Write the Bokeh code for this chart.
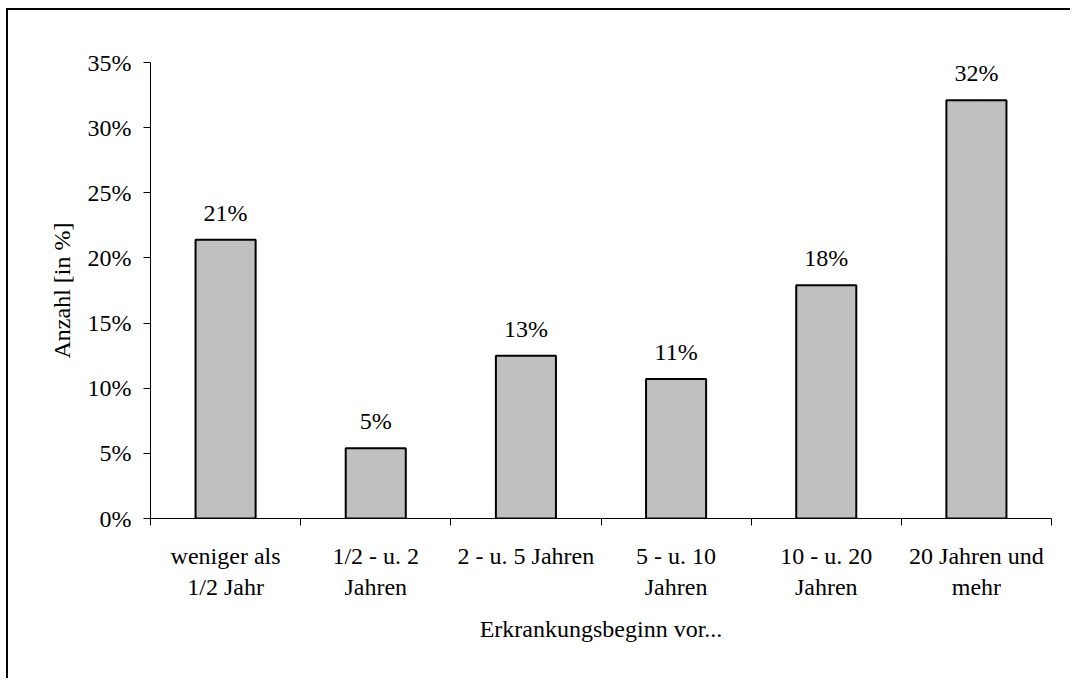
from bokeh.plotting import figure
from bokeh.models import (ColumnDataSource, Range1d, LinearAxis, FixedTicker,
                          PrintfTickFormatter, LabelSet)
from bokeh.embed import file_html
from bokeh.resources import INLINE

# ---- data ----
line1 = ["weniger als", "1/2 - u. 2", "2 - u. 5 Jahren", "5 - u. 10", "10 - u. 20", "20 Jahren und"]
line2 = ["1/2 Jahr", "Jahren", "", "Jahren", "Jahren", "mehr"]
values = [21.4, 5.4, 12.5, 10.7, 17.9, 32.1]
yticks = [0, 5, 10, 15, 20, 25, 30, 35]

FONT = "Liberation Serif"
FS = "24px"

n = len(values)
centers = [i + 0.5 for i in range(n)]
bounds = [float(i) for i in range(n + 1)]
lbl = [f"{int(v + 0.5)}%" for v in values]

src = ColumnDataSource(dict(x=centers, top=values, lbl=lbl))

p = figure(width=1064, height=670, output_backend="svg", toolbar_location=None,
           x_range=Range1d(0, n), y_range=Range1d(0, yticks[-1]),
           x_axis_location=None, y_axis_location="left",
           min_border_left=142, min_border_right=21, min_border_top=52,
           min_border_bottom=162)
p.styles = {"border-left": "2px solid #000", "border-top": "2px solid #000",
            "margin-left": "6px", "margin-top": "8px"}
p.outline_line_color = None
p.xgrid.visible = False
p.ygrid.visible = False
p.background_fill_color = "white"
p.border_fill_color = "white"

p.vbar(x="x", top="top", width=0.4, source=src, fill_color="#C0C0C0",
       line_color="black", line_width=2)

p.add_layout(LabelSet(x="x", y="top", text="lbl", source=src, y_offset=14,
                      text_align="center", text_baseline="bottom",
                      text_font=FONT, text_font_size=FS, text_color="black"))

ya = p.yaxis[0]
ya.ticker = FixedTicker(ticks=yticks, minor_ticks=[])
ya.formatter = PrintfTickFormatter(format="%d%%")
ya.major_tick_out = 7
ya.major_tick_in = 0
ya.major_tick_line_color = "black"
ya.axis_line_color = "black"
ya.major_label_text_font = FONT
ya.major_label_text_font_size = FS
ya.major_label_text_color = "black"
ya.major_label_standoff = 12
ya.axis_label = "Anzahl [in %]"
ya.axis_label_text_font = FONT
ya.axis_label_text_font_size = FS
ya.axis_label_text_font_style = "normal"
ya.axis_label_text_color = "black"
ya.axis_label_standoff = 10

ax1 = LinearAxis(ticker=FixedTicker(ticks=centers, minor_ticks=bounds),
                 major_label_overrides={c: t for c, t in zip(centers, line1)})
ax1.axis_line_color = "black"
ax1.major_tick_line_color = None
ax1.major_tick_out = 7
ax1.major_tick_in = 0
ax1.minor_tick_line_color = "black"
ax1.minor_tick_out = 7
ax1.minor_tick_in = 0
ax1.major_label_standoff = 17
ax1.major_label_text_font = FONT
ax1.major_label_text_font_size = FS
ax1.major_label_text_color = "black"
p.add_layout(ax1, "below")

ax2 = LinearAxis(ticker=FixedTicker(ticks=centers, minor_ticks=[]),
                 major_label_overrides={c: (t if t else " ") for c, t in zip(centers, line2)})
ax2.axis_line_color = None
ax2.major_tick_line_color = None
ax2.minor_tick_line_color = None
ax2.major_tick_out = 0
ax2.major_tick_in = 0
ax2.major_label_standoff = 2
ax2.major_label_text_font = FONT
ax2.major_label_text_font_size = FS
ax2.major_label_text_color = "black"
ax2.axis_label = "Erkrankungsbeginn vor..."
ax2.axis_label_text_font = FONT
ax2.axis_label_text_font_size = FS
ax2.axis_label_text_font_style = "normal"
ax2.axis_label_text_color = "black"
ax2.axis_label_standoff = 13
p.add_layout(ax2, "below")

open("out.html", "w").write(file_html(p, INLINE))
